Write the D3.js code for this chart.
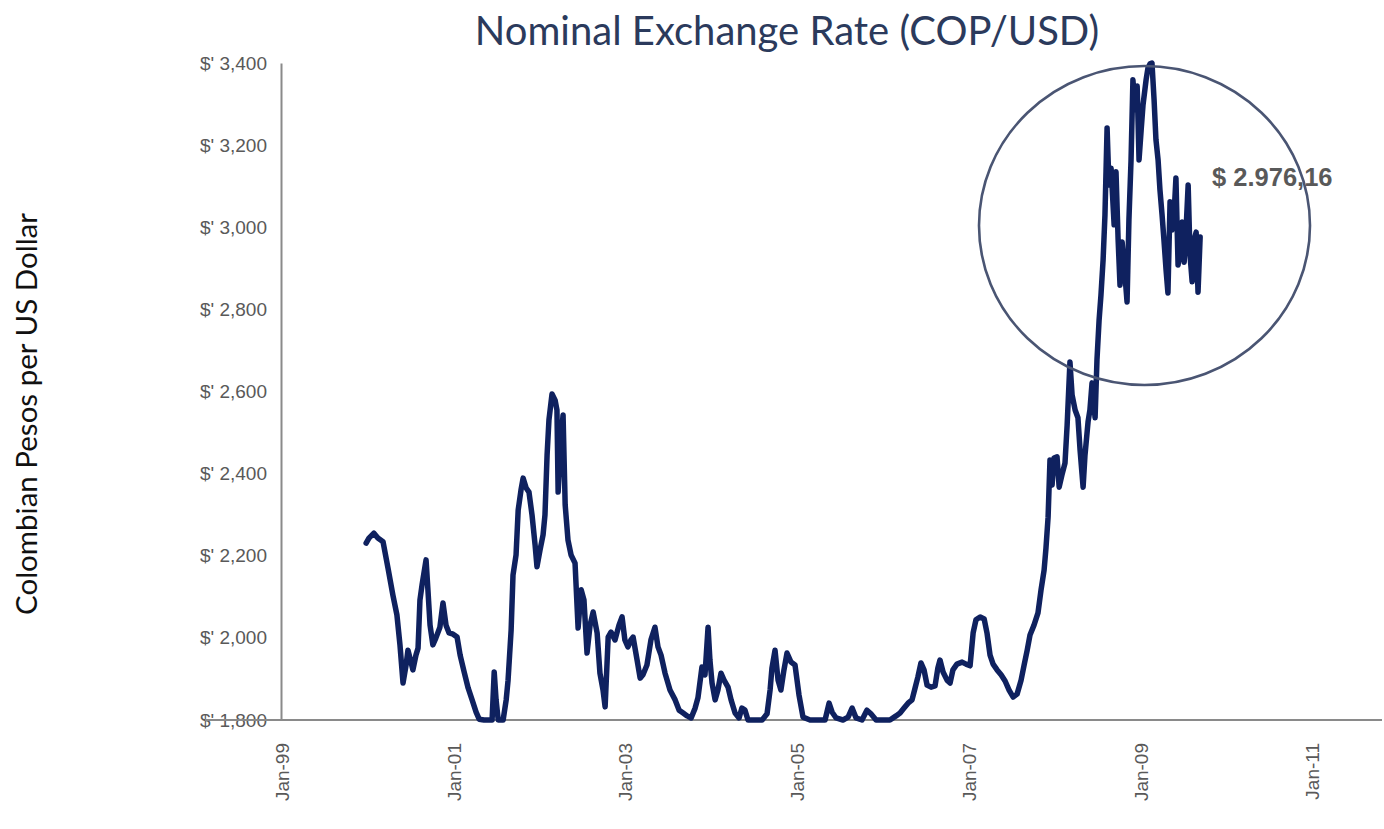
<!DOCTYPE html>
<html>
<head>
<meta charset="utf-8">
<script src="https://cdn.jsdelivr.net/npm/d3@7/dist/d3.min.js"></script>
<style>
  html, body { margin: 0; padding: 0; background: #ffffff; }
  svg { display: block; }
</style>
</head>
<body>
<script>
// ---------------- DATA ----------------
const title = "Nominal Exchange Rate (COP/USD)";
const yAxisTitle = "Colombian Pesos per US Dollar";
const lastLabel = "$ 2.976,16";

const xTickDates = ["1999-01-01","2001-01-01","2003-01-01","2005-01-01","2007-01-01","2009-01-01","2011-01-01"];
const yTickValues = [1800, 2000, 2200, 2400, 2600, 2800, 3000, 3200, 3400];

const dates = [
"1999-12-25","2000-01-06","2000-01-27","2000-02-13","2000-03-06","2000-03-27","2000-04-17","2000-05-04","2000-05-17","2000-05-30","2000-06-12","2000-06-20","2000-07-03","2000-07-11","2000-07-24","2000-08-02","2000-08-10","2000-08-19","2000-09-05","2000-09-13","2000-09-22","2000-10-04","2000-10-17","2000-11-03","2000-11-16","2000-11-29","2000-12-12","2000-12-29",
"2001-01-15","2001-01-28","2001-02-14","2001-03-03","2001-03-20","2001-04-06","2001-04-19","2001-05-10","2001-05-31","2001-06-13","2001-06-22","2001-06-30","2001-07-09","2001-07-30","2001-08-12","2001-08-20","2001-09-02","2001-09-10","2001-09-23","2001-10-02","2001-10-14","2001-10-23","2001-11-05","2001-11-17","2001-11-30","2001-12-13","2001-12-21",
"2002-01-03","2002-01-16","2002-01-24","2002-02-02","2002-02-10","2002-02-23","2002-03-08","2002-03-16","2002-03-21","2002-04-02","2002-04-11","2002-04-20","2002-05-02","2002-05-15","2002-06-01","2002-06-14","2002-06-27","2002-07-09","2002-07-22","2002-08-04","2002-08-17","2002-09-03","2002-09-15","2002-09-28","2002-10-07","2002-10-20","2002-11-01","2002-11-18","2002-12-05","2002-12-18","2002-12-30",
"2003-01-12","2003-01-25","2003-02-03","2003-02-20","2003-03-05","2003-03-17","2003-04-03","2003-04-20","2003-05-07","2003-05-20","2003-06-02","2003-06-19","2003-07-10","2003-08-01","2003-08-18","2003-09-04","2003-09-21","2003-10-08","2003-10-25","2003-11-06","2003-11-23","2003-12-06","2003-12-19","2003-12-27",
"2004-01-05","2004-01-18","2004-01-30","2004-02-12","2004-02-25","2004-03-13","2004-03-26","2004-04-12","2004-04-29","2004-05-11","2004-05-24","2004-06-06","2004-07-06","2004-08-05","2004-08-26","2004-09-08","2004-09-16","2004-09-29","2004-10-12","2004-10-24","2004-11-06","2004-11-19","2004-12-06","2004-12-23",
"2005-01-09","2005-01-26","2005-02-25","2005-03-31","2005-04-30","2005-05-17","2005-05-30","2005-06-16","2005-07-15","2005-08-06","2005-08-23","2005-09-09","2005-10-04","2005-10-25","2005-11-11","2005-12-03","2005-12-28",
"2006-01-31","2006-02-26","2006-03-15","2006-04-01","2006-04-18","2006-05-05","2006-05-18","2006-05-30","2006-06-12","2006-06-25","2006-07-08","2006-07-25","2006-08-11","2006-08-23","2006-09-01","2006-09-14","2006-10-01","2006-10-14","2006-10-26","2006-11-12","2006-12-04","2006-12-21",
"2007-01-07","2007-01-20","2007-02-01","2007-02-19","2007-03-08","2007-03-20","2007-04-02","2007-04-15","2007-05-02","2007-05-19","2007-06-05","2007-06-22","2007-07-09","2007-07-26","2007-08-12","2007-08-25","2007-09-07","2007-09-19","2007-10-06","2007-10-23","2007-11-05","2007-11-18","2007-11-26","2007-12-05","2007-12-13","2007-12-22","2007-12-30",
"2008-01-12","2008-01-21","2008-02-02","2008-02-15","2008-02-24","2008-03-07","2008-03-16","2008-03-29","2008-04-10","2008-04-19","2008-05-02","2008-05-10","2008-05-23","2008-05-31","2008-06-09","2008-06-22","2008-06-30","2008-07-09","2008-07-17","2008-07-26","2008-08-03","2008-08-12","2008-08-20","2008-08-29","2008-09-11","2008-09-19","2008-09-28","2008-10-06","2008-10-15","2008-10-27","2008-11-05","2008-11-13","2008-11-22","2008-11-30","2008-12-09","2008-12-18","2008-12-26",
"2009-01-04","2009-01-12","2009-01-25","2009-02-02","2009-02-11","2009-02-19","2009-02-28","2009-03-08","2009-03-17","2009-03-25","2009-04-03","2009-04-11","2009-04-20","2009-04-28","2009-05-07","2009-05-15","2009-05-24","2009-06-01","2009-06-10","2009-06-19","2009-06-27","2009-07-06","2009-07-14","2009-07-23","2009-07-31","2009-08-09","2009-08-17","2009-08-26","2009-09-03","2009-09-12"
];

const rates = [
2231,2243,2255,2243,2234,2170,2104,2056,1983,1890,1934,1970,1941,1922,1958,1975,2092,2129,2190,2117,2031,1983,2000,2026,2085,2031,2012,2009,
2002,1958,1917,1878,1849,1819,1802,1785,1780,1795,1917,1849,1790,1795,1849,1897,2019,2153,2202,2311,2360,2389,2365,2355,2299,2226,2173,
2214,2251,2299,2445,2531,2594,2579,2555,2355,2482,2543,2324,2238,2202,2182,2024,2117,2092,1963,2031,2063,2012,1914,1873,1832,2002,2014,1995,2031,2051,1995,
1978,1995,2002,1946,1902,1910,1934,1995,2026,1978,1958,1914,1873,1849,1824,1817,1810,1805,1829,1854,1929,1910,2026,1946,
1890,1849,1873,1914,1897,1880,1849,1817,1805,1829,1824,1795,1785,1790,1815,1873,1927,1970,1897,1873,1922,1963,1941,1934,
1861,1807,1780,1775,1795,1841,1819,1805,1798,1807,1829,1805,1800,1824,1815,1800,1780,
1785,1810,1817,1829,1841,1849,1878,1905,1939,1922,1885,1880,1883,1927,1946,1917,1897,1890,1922,1936,1941,1936,
1932,2012,2044,2051,2046,2012,1958,1936,1922,1910,1895,1873,1856,1863,1897,1934,1970,2007,2031,2061,2117,2165,2219,2294,2433,2372,2438,
2441,2367,2397,2426,2518,2672,2592,2555,2536,2458,2367,2445,2526,2555,2621,2536,2677,2774,2835,2920,3030,3242,3103,3144,3006,3135,2969,2859,2964,2884,2818,3018,3164,3359,3286,3344,3164,
3237,3298,3359,3388,3398,3400,3310,3213,3164,3091,3030,2969,2896,2840,3062,2993,3030,3120,2908,2945,3013,2915,2993,3103,2932,2867,2969,2988,2842,2976.16
];

// ---------------- CHART ----------------
const W = 1384, H = 829;
const parse = d3.timeParse("%Y-%m-%d");
const series = dates.map((d, i) => ({ date: parse(d), value: rates[i] }));

const svg = d3.select("body").append("svg").attr("width", W).attr("height", H);

const x = d3.scaleTime()
  .domain([parse("1999-01-01"), parse("2011-01-01")])
  .range([282, 1312]);
const y = d3.scaleLinear()
  .domain([1800, 3400])
  .range([720, 63])
  .clamp(true);

const labelColor = "#595959";
const axisColor = "#8a8a8a";

// Title
svg.append("text")
  .attr("x", 787).attr("y", 30)
  .attr("text-anchor", "middle")
  .attr("dominant-baseline", "central")
  .style("font-family", "Lato, 'Open Sans', sans-serif")
  .style("font-size", "40px")
  .style("fill", "#2b3a5c")
  .text(title);

// Y axis title
svg.append("text")
  .attr("transform", "translate(25,414) rotate(-90)")
  .attr("text-anchor", "middle")
  .attr("dominant-baseline", "central")
  .style("font-family", "Lato, 'Open Sans', sans-serif")
  .style("font-size", "29.5px")
  .style("fill", "#111")
  .text(yAxisTitle);

// Y axis
const yAxis = d3.axisLeft(y)
  .tickValues(yTickValues)
  .tickFormat(d => "$' " + d3.format(",")(d))
  .tickSize(0)
  .tickPadding(14);
const gy = svg.append("g").attr("transform", `translate(${x.range()[0] - 1},0)`).call(yAxis);
gy.select(".domain").attr("stroke", axisColor).attr("stroke-width", 2);
gy.selectAll("text")
  .style("font-family", "'Liberation Sans', Arial, sans-serif")
  .style("font-size", "19px")
  .style("fill", labelColor);

// X axis
const xAxis = d3.axisBottom(x)
  .tickValues(xTickDates.map(parse))
  .tickFormat(d3.timeFormat("%b-%y"))
  .tickSize(0);
const gx = svg.append("g").attr("transform", `translate(0,${y(1800)})`).call(xAxis);
gx.select(".domain").remove();
gx.selectAll("text")
  .attr("transform", "rotate(-90)")
  .attr("x", -23)
  .attr("y", 0)
  .attr("dy", "0.35em")
  .style("text-anchor", "end")
  .style("font-family", "'Liberation Sans', Arial, sans-serif")
  .style("font-size", "19px")
  .style("fill", labelColor);

// x axis baseline (runs through the lowest y label and to the right edge)
svg.append("line")
  .attr("x1", 205).attr("x2", 1382)
  .attr("y1", y(1800)).attr("y2", y(1800))
  .attr("stroke", axisColor).attr("stroke-width", 2);

// Line
const line = d3.line()
  .x(d => x(d.date))
  .y(d => y(d.value));
svg.append("path")
  .datum(series)
  .attr("d", line)
  .attr("fill", "none")
  .attr("stroke", "#0f215f")
  .attr("stroke-width", 5.5)
  .attr("stroke-linejoin", "round")
  .attr("stroke-linecap", "round");

// Highlight ellipse around the recent period
svg.append("ellipse")
  .attr("cx", 1144.5).attr("cy", 225.5)
  .attr("rx", 165.5).attr("ry", 159.5)
  .attr("fill", "none")
  .attr("stroke", "#4a5573")
  .attr("stroke-width", 2.6);

// Last value annotation
svg.append("text")
  .attr("x", 1212).attr("y", 177)
  .attr("dominant-baseline", "central")
  .style("font-family", "'Liberation Sans', Arial, sans-serif")
  .style("font-weight", "bold")
  .style("font-size", "25.5px")
  .style("fill", labelColor)
  .text(lastLabel);
</script>
</body>
</html>
